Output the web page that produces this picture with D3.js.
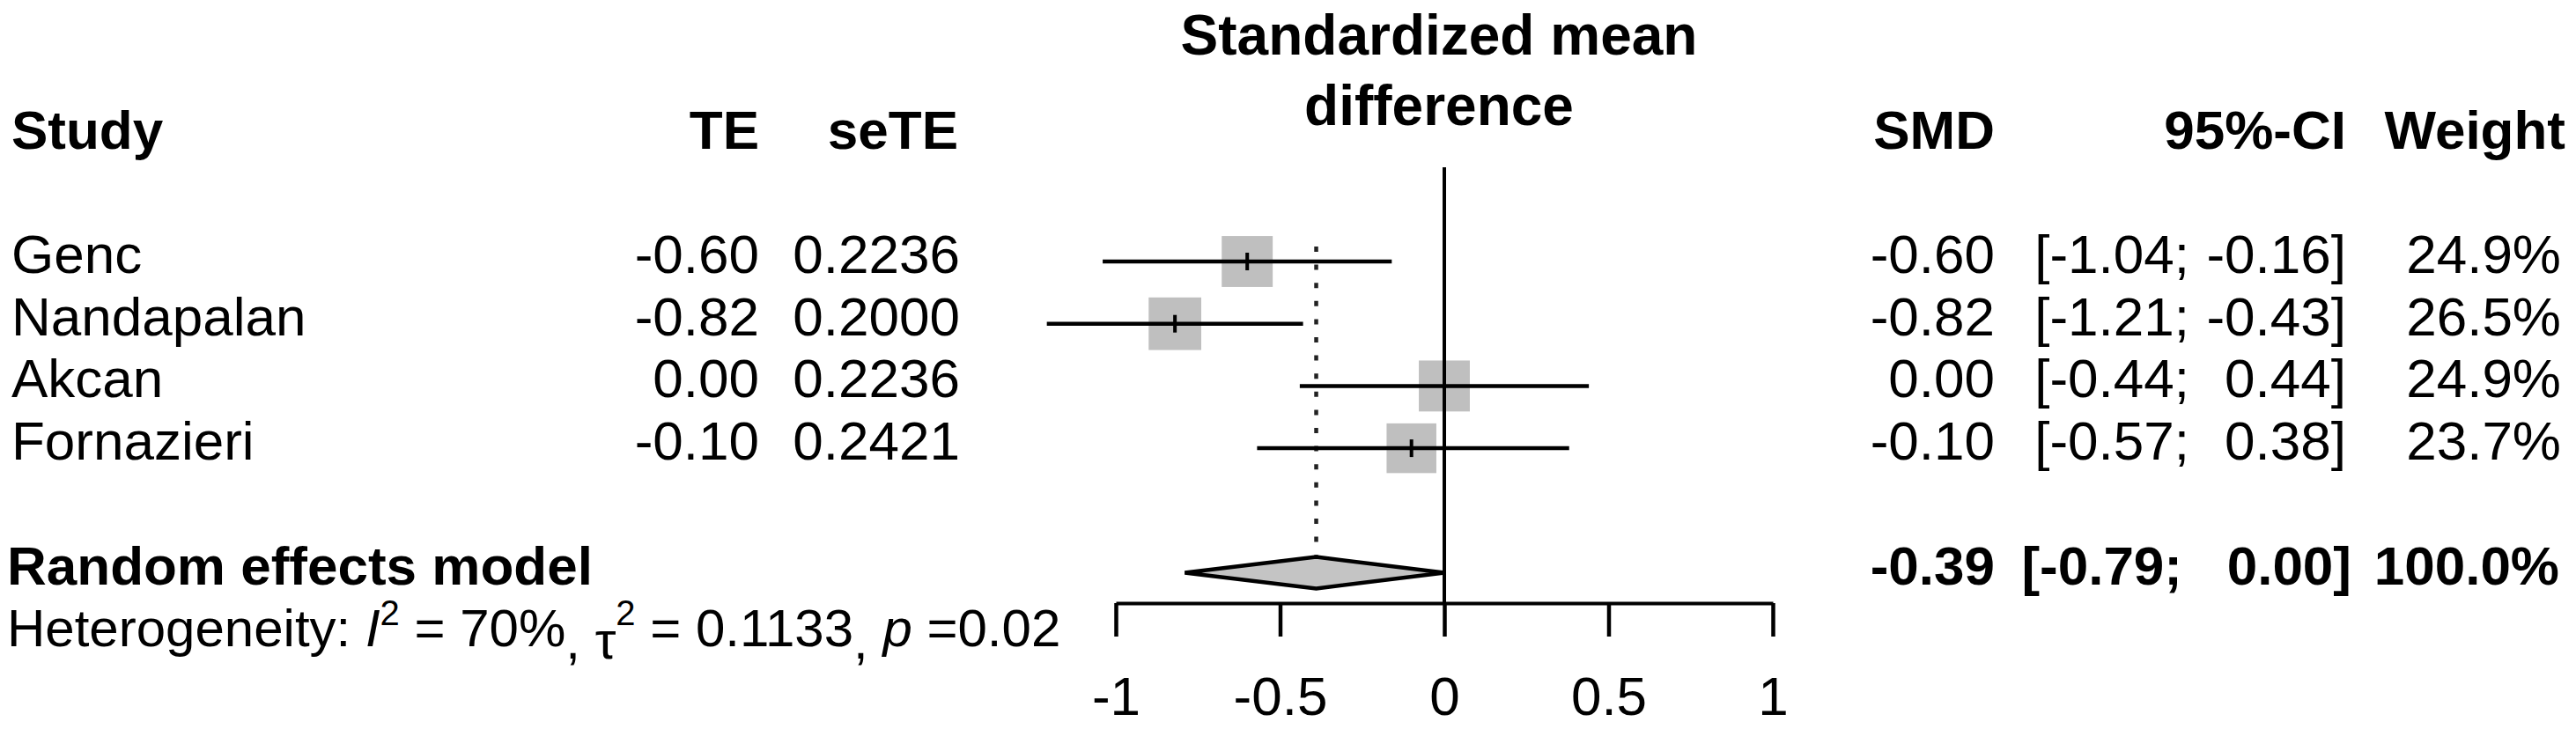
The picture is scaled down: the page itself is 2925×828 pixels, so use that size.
<!DOCTYPE html>
<html>
<head>
<meta charset="utf-8">
<script src="https://cdn.jsdelivr.net/npm/d3@7"></script>
<style>
  body { margin: 0; background: #fff; }
  svg { font-family: "Liberation Sans", Arial, sans-serif; }
</style>
</head>
<body>
<div class="visHolder"></div>
<script>
// study level data
let studies = ['Genc', 'Nandapalan', 'Akcan', 'Fornazieri'];
let te = [-0.60, -0.82, 0.00, -0.10];
let seTE = [0.2236, 0.2000, 0.2236, 0.2421];
let ciLower = [-1.04, -1.21, -0.44, -0.57];
let ciUpper = [-0.16, -0.43, 0.44, 0.38];
let weights = [24.9, 26.5, 24.9, 23.7];

// pooled (random effects) result
let pooledEst = -0.39;
let pooledCI = [-0.79, 0.00];
let pooledWeight = 100.0;

let xTicks = [-1, -0.5, 0, 0.5, 1];
let titleLines = ['Standardized mean', 'difference'];

let width = 2925;
let height = 828;
let fontSize = 62;

let svg = d3.select('.visHolder').append('svg')
  .attr('width', width)
  .attr('height', height);

let xScale = d3.scaleLinear().domain([-1, 1]).range([1267, 2013]);
// row index -> vertical centre of the row
let yScale = d3.scaleLinear().domain([0, 1]).range([297, 367.7]);
let base = 13;   // text baseline below row centre
let pooledRow = 5;
let axisY = 685;

let fmt2 = d3.format('.2f');
let fmt4 = d3.format('.4f');
let hy = s => s.replace('\u2212', '-');

function txt(x, yv, s, anchor, bold) {
  return svg.append('text')
    .attr('x', x).attr('y', yv)
    .attr('text-anchor', anchor || 'start')
    .attr('font-size', fontSize)
    .attr('font-weight', bold ? 'bold' : 'normal')
    .text(s);
}

// title
titleLines.forEach((t, i) => {
  svg.append('text')
    .attr('x', 1634).attr('y', 62 + i * 80)
    .attr('text-anchor', 'middle')
    .attr('font-size', 64)
    .attr('font-weight', 'bold')
    .text(t);
});

// column headers
let hY = yScale(-2) + base;
txt(13, hY, 'Study', 'start', true);
txt(862, hY, 'TE', 'end', true);
txt(1088, hY, 'seTE', 'end', true);
txt(2265, hY, 'SMD', 'end', true);
txt(2664, hY, '95%-CI', 'end', true);
txt(2913, hY, 'Weight', 'end', true);

// study rows text
studies.forEach((s, i) => {
  let yy = yScale(i) + base;
  txt(13, yy, s);
  txt(862, yy, hy(fmt2(te[i])), 'end');
  txt(1090, yy, fmt4(seTE[i]), 'end');
  txt(2265, yy, hy(fmt2(te[i])), 'end');
  txt(2486, yy, '[' + hy(fmt2(ciLower[i])) + ';', 'end');
  txt(2664, yy, hy(fmt2(ciUpper[i])) + ']', 'end');
  txt(2908, yy, weights[i].toFixed(1) + '%', 'end');
});

// pooled row text
let pY = yScale(pooledRow) + base;
txt(8, pY, 'Random effects model', 'start', true);
txt(2265, pY, hy(fmt2(pooledEst)), 'end', true);
txt(2478, pY, '[' + hy(fmt2(pooledCI[0])) + ';', 'end', true);
txt(2670, pY, hy(fmt2(pooledCI[1])) + ']', 'end', true);
txt(2906, pY, pooledWeight.toFixed(1) + '%', 'end', true);

// heterogeneity line
let het = svg.append('text')
  .attr('x', 8).attr('y', yScale(pooledRow + 1) + base)
  .attr('font-size', 60);
het.append('tspan').text('Heterogeneity: ');
het.append('tspan').attr('font-style', 'italic').text('I');
het.append('tspan').attr('font-size', 40).attr('dy', -24).text('2');
het.append('tspan').attr('dy', 24).text(' = 70%');
het.append('tspan').attr('dy', 14).text(',');
het.append('tspan').text(' \u03c4');
het.append('tspan').attr('font-size', 40).attr('dy', -38).text('2');
het.append('tspan').attr('dy', 24).text(' = 0.1133');
het.append('tspan').attr('dy', 14).text(',');
het.append('tspan').attr('dy', -14).text(' ');
het.append('tspan').attr('font-style', 'italic').text('p');
het.append('tspan').text(' =0.02');

// squares (side ~ sqrt of weight)
svg.append('g').selectAll('rect')
  .data(studies)
  .join('rect')
  .attr('x', (d, i) => xScale(te[i]) - 11.6 * Math.sqrt(weights[i]) / 2)
  .attr('y', (d, i) => yScale(i) - 11.6 * Math.sqrt(weights[i]) / 2)
  .attr('width', (d, i) => 11.6 * Math.sqrt(weights[i]))
  .attr('height', (d, i) => 11.6 * Math.sqrt(weights[i]))
  .attr('fill', '#bfbfbf');

// line of no effect
svg.append('line')
  .attr('x1', xScale(0)).attr('x2', xScale(0))
  .attr('y1', 190).attr('y2', axisY)
  .attr('stroke', '#000').attr('stroke-width', 4);

// pooled estimate (dotted)
svg.append('line')
  .attr('x1', xScale(pooledEst)).attr('x2', xScale(pooledEst))
  .attr('y1', 280).attr('y2', yScale(pooledRow) - 18)
  .attr('stroke', '#222').attr('stroke-width', 4.5)
  .attr('stroke-dasharray', '6 14.6');

// confidence intervals
svg.append('g').selectAll('line')
  .data(studies)
  .join('line')
  .attr('x1', (d, i) => xScale(ciLower[i]))
  .attr('x2', (d, i) => xScale(ciUpper[i]))
  .attr('y1', (d, i) => yScale(i))
  .attr('y2', (d, i) => yScale(i))
  .attr('stroke', '#000').attr('stroke-width', 4.5);

// point estimate marks
svg.append('g').selectAll('line')
  .data(studies)
  .join('line')
  .attr('x1', (d, i) => xScale(te[i]))
  .attr('x2', (d, i) => xScale(te[i]))
  .attr('y1', (d, i) => yScale(i) - 10)
  .attr('y2', (d, i) => yScale(i) + 10)
  .attr('stroke', '#000').attr('stroke-width', 4);

// diamond
let dy = yScale(pooledRow);
svg.append('polygon')
  .attr('points', [
    [xScale(pooledCI[0]), dy],
    [xScale(pooledEst), dy - 18],
    [xScale(pooledCI[1]), dy],
    [xScale(pooledEst), dy + 18]
  ].map(p => p.join(',')).join(' '))
  .attr('fill', '#c4c4c4')
  .attr('stroke', '#000').attr('stroke-width', 4.5);

// x axis
let xAxis = d3.axisBottom(xScale)
  .tickValues(xTicks)
  .tickSize(38)
  .tickSizeOuter(0)
  .tickPadding(45)
  .tickFormat(d => String(d));

let ax = svg.append('g')
  .attr('transform', 'translate(0,' + axisY + ')')
  .call(xAxis)
  .attr('font-family', '"Liberation Sans", Arial, sans-serif')
  .attr('font-size', fontSize);
ax.select('.domain').attr('stroke-width', 4);
ax.selectAll('.tick line').attr('stroke-width', 4.5);
ax.selectAll('.tick text').attr('fill', '#000');
</script>
</body>
</html>
